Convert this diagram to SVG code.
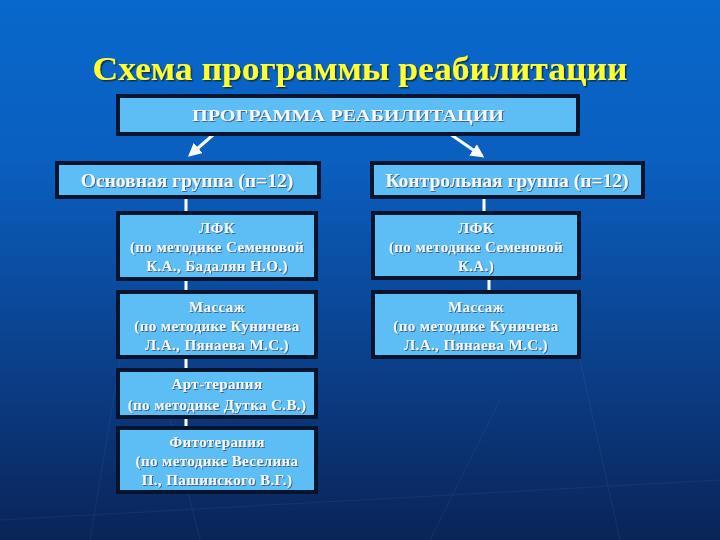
<svg xmlns="http://www.w3.org/2000/svg" width="720" height="540" viewBox="0 0 720 540">
<defs>
<linearGradient id="bg" x1="0" y1="0" x2="0" y2="1">
<stop offset="0" stop-color="#0868CC"/>
<stop offset="0.3" stop-color="#0A5FBF"/>
<stop offset="0.6" stop-color="#0B4594"/>
<stop offset="1" stop-color="#0A2458"/>
</linearGradient>
<filter id="sh" x="-10%" y="-20%" width="120%" height="140%">
<feDropShadow dx="1.5" dy="1.5" stdDeviation="0.6" flood-color="#102040" flood-opacity="0.8"/>
</filter>
<filter id="tsh" x="-5%" y="-20%" width="110%" height="140%">
<feDropShadow dx="1" dy="1" stdDeviation="0.4" flood-color="#3A5A80" flood-opacity="0.9"/>
</filter>
<marker id="ah" viewBox="0 0 10 10" refX="8" refY="5" markerWidth="4.5" markerHeight="4.5" orient="auto">
<path d="M0,0 L10,5 L0,10 Z" fill="#FFFFFF"/>
</marker>
<style>
.box{fill:#5CBEF4;stroke:#06152E;stroke-width:4}
.t{font-family:"Liberation Serif","Times New Roman",serif;font-weight:bold;fill:#F4F8FC;text-anchor:middle}
.s{font-size:15px;letter-spacing:0.4px}
.g{font-size:19.5px}
.conn{stroke:#FFFFFF;stroke-width:3;fill:none}
</style>
</defs>
<rect x="0" y="0" width="720" height="540" fill="url(#bg)"/>
<g opacity="0.07" stroke="#9CC8FF" stroke-width="1">
<line x1="90" y1="540" x2="130" y2="300"/>
<line x1="200" y1="540" x2="160" y2="380"/>
<line x1="430" y1="540" x2="500" y2="400"/>
<line x1="620" y1="540" x2="580" y2="360"/>
<line x1="0" y1="520" x2="720" y2="480"/>
</g>
<text x="360" y="80" font-family="Liberation Serif, Times New Roman, serif" font-weight="bold" font-size="34" fill="#FFFF2E" text-anchor="middle" filter="url(#sh)" textLength="535" lengthAdjust="spacingAndGlyphs">Схема программы реабилитации</text>

<g id="connectors">
<line class="conn" x1="213" y1="135" x2="190" y2="155" marker-end="url(#ah)"/>
<line class="conn" x1="450" y1="134" x2="482" y2="156" marker-end="url(#ah)"/>
<line class="conn" x1="186" y1="199" x2="186" y2="211"/>
<line class="conn" x1="186" y1="281" x2="186" y2="290"/>
<line class="conn" x1="186" y1="359" x2="186" y2="368"/>
<line class="conn" x1="186" y1="419" x2="186" y2="426"/>
<line class="conn" x1="484" y1="199" x2="484" y2="211"/>
<line class="conn" x1="489" y1="280" x2="489" y2="290"/>
</g>

<g id="program">
<rect class="box" x="118" y="96" width="460" height="38"/>
<text class="t" x="348" y="121" font-size="17" font-weight="normal" filter="url(#tsh)" textLength="312" lengthAdjust="spacingAndGlyphs">ПРОГРАММА РЕАБИЛИТАЦИИ</text>
</g>

<g id="main-group">
<rect class="box" x="57" y="163" width="262" height="34"/>
<text class="t g" x="187" y="187" filter="url(#tsh)">Основная группа (п=12)</text>
</g>

<g id="control-group">
<rect class="box" x="372" y="163" width="271" height="34"/>
<text class="t g" x="507" y="187" filter="url(#tsh)">Контрольная группа (п=12)</text>
</g>

<g id="main-lfk">
<rect class="box" x="118" y="213" width="198" height="66"/>
<text class="t s" x="217" y="233" filter="url(#tsh)">ЛФК</text>
<text class="t s" x="217" y="252" filter="url(#tsh)">(по методике Семеновой</text>
<text class="t s" x="217" y="271" filter="url(#tsh)">К.А., Бадалян Н.О.)</text>
</g>

<g id="main-massage">
<rect class="box" x="118" y="292" width="198" height="65"/>
<text class="t s" x="217" y="312" filter="url(#tsh)">Массаж</text>
<text class="t s" x="217" y="331" filter="url(#tsh)">(по методике Куничева</text>
<text class="t s" x="217" y="350" filter="url(#tsh)">Л.А., Пянаева М.С.)</text>
</g>

<g id="main-art">
<rect class="box" x="118" y="370" width="198" height="47"/>
<text class="t s" x="217" y="389" filter="url(#tsh)">Арт-терапия</text>
<text class="t s" x="217" y="410" filter="url(#tsh)">(по методике Дутка С.В.)</text>
</g>

<g id="main-phyto">
<rect class="box" x="118" y="428" width="198" height="64"/>
<text class="t s" x="217" y="447" filter="url(#tsh)">Фитотерапия</text>
<text class="t s" x="217" y="466" filter="url(#tsh)">(по методике Веселина</text>
<text class="t s" x="217" y="485" filter="url(#tsh)">П., Пашинского В.Г.)</text>
</g>

<g id="control-lfk">
<rect class="box" x="373" y="213" width="206" height="65"/>
<text class="t s" x="476" y="233" filter="url(#tsh)">ЛФК</text>
<text class="t s" x="476" y="252" filter="url(#tsh)">(по методике Семеновой</text>
<text class="t s" x="476" y="271" filter="url(#tsh)">К.А.)</text>
</g>

<g id="control-massage">
<rect class="box" x="373" y="292" width="206" height="65"/>
<text class="t s" x="476" y="312" filter="url(#tsh)">Массаж</text>
<text class="t s" x="476" y="331" filter="url(#tsh)">(по методике Куничева</text>
<text class="t s" x="476" y="350" filter="url(#tsh)">Л.А., Пянаева М.С.)</text>
</g>
</svg>
